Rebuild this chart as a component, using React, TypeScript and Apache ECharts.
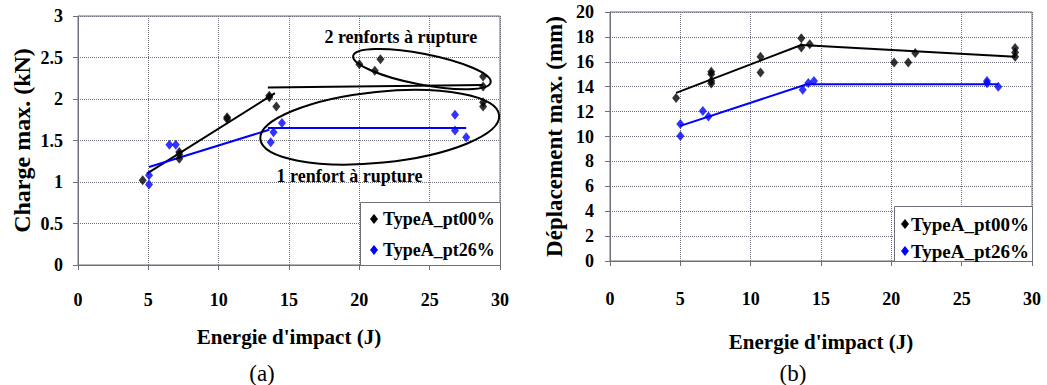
import React, { useEffect, useRef } from "react";
import * as echarts from "echarts";

// ---- Data ----
const energyTicks = [0, 5, 10, 15, 20, 25, 30];
const seriesNames = ["TypeA_pt00%", "TypeA_pt26%"];

// (a) Charge max. (kN)
const chargeX00 = [4.6, 7.2, 7.2, 7.2, 10.6, 10.6, 13.6, 13.6, 14.1, 20.0, 21.1, 21.5, 28.8, 28.8, 28.8, 28.8];
const chargeY00 = [1.02, 1.36, 1.33, 1.28, 1.78, 1.76, 2.04, 2.02, 1.91, 2.42, 2.34, 2.48, 2.27, 2.15, 1.96, 1.91];
const chargeX26 = [5.05, 5.05, 6.5, 6.95, 13.7, 13.9, 14.5, 26.8, 26.8, 27.6];
const chargeY26 = [1.08, 0.97, 1.45, 1.45, 1.48, 1.6, 1.71, 1.81, 1.62, 1.54];
const chargeTrend00a = [[4.9, 1.1], [14.0, 2.07]];
const chargeTrend00b = [[13.5, 2.14], [28.8, 2.17]];
const chargeTrend26a = [[5.05, 1.18], [13.6, 1.63]];
const chargeTrend26b = [[13.5, 1.65], [27.6, 1.65]];

// (b) Déplacement max. (mm)
const deplX00 = [4.7, 7.2, 7.2, 7.2, 7.2, 10.7, 10.7, 13.6, 13.6, 14.2, 20.2, 21.2, 21.7, 28.8, 28.8, 28.8];
const deplY00 = [13.1, 15.2, 15.0, 14.45, 14.25, 16.4, 15.15, 17.9, 17.15, 17.4, 15.95, 15.95, 16.7, 17.1, 16.75, 16.4];
const deplX26 = [5.0, 5.0, 6.6, 7.0, 13.7, 14.1, 14.5, 26.8, 26.8, 27.6];
const deplY26 = [11.0, 10.05, 12.05, 11.6, 13.75, 14.3, 14.45, 14.45, 14.27, 14.0];
const deplTrend00 = [[4.7, 13.5], [13.6, 17.35], [28.8, 16.4]];
const deplTrend26 = [[5.0, 10.85], [14.0, 14.2], [27.6, 14.2]];

// Annotations (data coordinates, chart a)
const annot2Center = [24.45, 2.36];
const annot1Center = [21.45, 1.66];
const annot2Label = "2 renforts à rupture";
const annot1Label = "1 renfort à rupture";
const annot2LabelPos = [22.95, 2.75];
const annot1LabelPos = [19.3, 1.07];

const zip = (xs: number[], ys: number[]) => xs.map((x, i) => [x, ys[i]]);

const FONT = "Liberation Serif";
const BLACK = "#000000";
const BLUE = "#0000ff";
const AXIS_COL = "#6E7079";
const GRID_COL = "#6E7079";

// grid geometry
const GA = { left: 78, top: 16, width: 422, height: 249 };
const GB = { left: 610, top: 12, width: 422, height: 249 };
const X_MAX = 30;
const YA_MAX = 3;
const toPxA = (p: number[]) => [GA.left + (p[0] / X_MAX) * GA.width, GA.top + GA.height - (p[1] / YA_MAX) * GA.height];

// legend boxes (drawn as graphics)
const legendBoxes = [
  { x: 360, y: 202, w: 140, h: 63, iconX: 374, textX: 383, rows: [219, 250], fontSize: 18 },
  { x: 894, y: 206, w: 138, h: 55, iconX: 905, textX: 911, rows: [224, 251], fontSize: 19 },
];
const legendColors = [BLACK, BLUE];

export default function App() {
  const ref = useRef<HTMLDivElement>(null);

  useEffect(() => {
    document.body.style.margin = "0";
    const chart = echarts.init(ref.current!, undefined, { renderer: "svg" });

    const mkSplit = () => ({ show: true, lineStyle: { color: GRID_COL, type: "dotted", width: 1 } });

    const xAxisBase = (gridIndex: number, margin: number, gap: number) => ({
      type: "value",
      gridIndex,
      min: 0,
      max: X_MAX,
      interval: 5,
      name: "Energie d'impact (J)",
      nameLocation: "middle",
      nameGap: gap,
      nameTextStyle: { fontFamily: FONT, fontWeight: "bold", fontSize: 21, color: BLACK },
      axisLine: { show: true, lineStyle: { color: AXIS_COL, width: 1 } },
      axisTick: { show: true, length: 5, lineStyle: { color: AXIS_COL, width: 1 } },
      axisLabel: {
        margin,
        fontFamily: FONT,
        fontWeight: "bold",
        fontSize: 18,
        color: BLACK,
        formatter: (v: number) => (energyTicks.includes(v) ? String(v) : ""),
      },
      splitLine: mkSplit(),
    });

    const yAxisBase = (gridIndex: number, max: number, interval: number, name: string, margin: number, gap: number, nameSize: number) => ({
      type: "value",
      gridIndex,
      min: 0,
      max,
      interval,
      name,
      nameLocation: "middle",
      nameGap: gap,
      nameTextStyle: { fontFamily: FONT, fontWeight: "bold", fontSize: nameSize, color: BLACK },
      axisLine: { show: true, lineStyle: { color: AXIS_COL, width: 1 } },
      axisTick: { show: true, length: 5, lineStyle: { color: AXIS_COL, width: 1 } },
      axisLabel: { margin, fontFamily: FONT, fontWeight: "bold", fontSize: 18, color: BLACK },
      splitLine: mkSplit(),
    });

    const scatter = (name: string, xi: number, data: number[][], color: string) => ({
      type: "scatter",
      name,
      xAxisIndex: xi,
      yAxisIndex: xi,
      data,
      symbol: "diamond",
      symbolSize: [8, 10],
      itemStyle: { color },
      z: 3,
    });

    const trend = (id: string, xi: number, data: number[][], color: string) => ({
      type: "line",
      name: id,
      xAxisIndex: xi,
      yAxisIndex: xi,
      data,
      showSymbol: false,
      symbol: "none",
      silent: true,
      lineStyle: { color, width: 2 },
      itemStyle: { color },
      z: 2,
    });

    const e2 = toPxA(annot2Center);
    const e1 = toPxA(annot1Center);
    const t2 = toPxA(annot2LabelPos);
    const t1 = toPxA(annot1LabelPos);
    const deg = Math.PI / 180;

    const legendGraphics: any[] = [];
    legendBoxes.forEach((b) => {
      legendGraphics.push({
        type: "rect",
        shape: { x: b.x + 0.5, y: b.y + 0.5, width: b.w, height: b.h },
        style: { fill: "#ffffff", stroke: AXIS_COL, lineWidth: 1 },
        z: 5,
        silent: true,
      });
      b.rows.forEach((ry, i) => {
        legendGraphics.push({
          type: "polygon",
          x: b.iconX,
          y: ry,
          shape: { points: [[0, -5], [4, 0], [0, 5], [-4, 0]] },
          style: { fill: legendColors[i] },
          z: 6,
          silent: true,
        });
        legendGraphics.push({
          type: "text",
          x: b.textX,
          y: ry,
          style: { text: seriesNames[i], fontFamily: FONT, fontWeight: "bold", fontSize: b.fontSize, fill: BLACK, align: "left", verticalAlign: "middle" },
          z: 6,
          silent: true,
        });
      });
    });

    chart.setOption({
      animation: false,
      grid: [
        { ...GA, show: true, borderColor: AXIS_COL, borderWidth: 1 },
        { ...GB, show: true, borderColor: AXIS_COL, borderWidth: 1 },
      ],
      xAxis: [xAxisBase(0, 26, 61), xAxisBase(1, 29, 70)],
      yAxis: [
        yAxisBase(0, YA_MAX, 0.5, "Charge max. (kN)", 15, 44, 24),
        yAxisBase(1, 20, 2, "Déplacement max. (mm)", 16, 44, 23),
      ],
      series: [
        trend("trend00a", 0, chargeTrend00a, BLACK),
        trend("trend00b", 0, chargeTrend00b, BLACK),
        trend("trend26a", 0, chargeTrend26a, BLUE),
        trend("trend26b", 0, chargeTrend26b, BLUE),
        scatter(seriesNames[0], 0, zip(chargeX00, chargeY00), BLACK),
        scatter(seriesNames[1], 0, zip(chargeX26, chargeY26), BLUE),
        trend("trendB00", 1, deplTrend00, BLACK),
        trend("trendB26", 1, deplTrend26, BLUE),
        scatter(seriesNames[0], 1, zip(deplX00, deplY00), BLACK),
        scatter(seriesNames[1], 1, zip(deplX26, deplY26), BLUE),
      ],
      graphic: [
        ...legendGraphics,
        {
          type: "ellipse",
          x: e2[0],
          y: e2[1],
          rotation: -10.9 * deg,
          shape: { cx: 0, cy: 0, rx: 70, ry: 15.5 },
          style: { fill: "none", stroke: BLACK, lineWidth: 2 },
          z: 10,
          silent: true,
        },
        {
          type: "ellipse",
          x: e1[0],
          y: e1[1],
          rotation: 5.75 * deg,
          shape: { cx: 0, cy: 0, rx: 120, ry: 35.5 },
          style: { fill: "none", stroke: BLACK, lineWidth: 2 },
          z: 10,
          silent: true,
        },
        {
          type: "text",
          x: t2[0],
          y: t2[1],
          style: { text: annot2Label, fontFamily: FONT, fontWeight: "bold", fontSize: 18, fill: BLACK, align: "center", verticalAlign: "middle" },
          z: 11,
        },
        {
          type: "text",
          x: t1[0],
          y: t1[1],
          style: { text: annot1Label, fontFamily: FONT, fontWeight: "bold", fontSize: 18, fill: BLACK, align: "center", verticalAlign: "middle" },
          z: 11,
        },
        {
          type: "text",
          x: 262,
          y: 373,
          style: { text: "(a)", fontFamily: FONT, fontSize: 23, fill: BLACK, align: "center", verticalAlign: "middle" },
        },
        {
          type: "text",
          x: 793,
          y: 373,
          style: { text: "(b)", fontFamily: FONT, fontSize: 23, fill: BLACK, align: "center", verticalAlign: "middle" },
        },
      ],
    });

    return () => chart.dispose();
  }, []);

  return (
    <div style={{ position: "absolute", left: 0, top: 0, width: 1047, height: 385, background: "#ffffff" }}>
      <div ref={ref} style={{ width: 1047, height: 385 }} />
    </div>
  );
}
